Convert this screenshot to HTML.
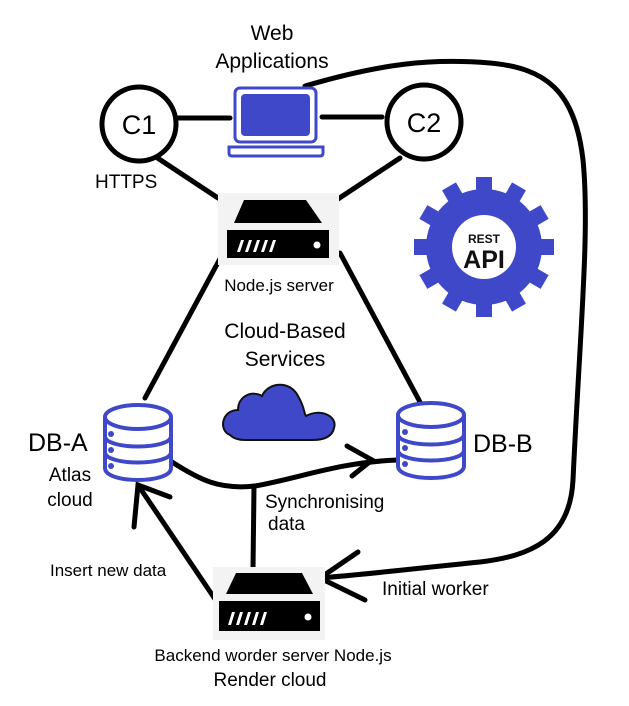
<!DOCTYPE html>
<html><head><style>
body{margin:0;background:#fff;}
svg{display:block;font-family:"Liberation Sans",sans-serif;}
</style></head><body>
<svg width="629" height="706" viewBox="0 0 629 706" xmlns="http://www.w3.org/2000/svg">
<rect width="629" height="706" fill="#fff"/>
<g stroke="#000" stroke-width="5" fill="none" stroke-linecap="round">
<line x1="177" y1="118" x2="230" y2="118"/>
<line x1="322" y1="117" x2="382" y2="117"/>
<line x1="156" y1="157" x2="218" y2="198"/>
<line x1="400" y1="158" x2="338" y2="199"/>
<line x1="222" y1="255" x2="145" y2="398"/>
<line x1="340" y1="253" x2="420" y2="402"/>
<path d="M172,462 C200,480 220,490 255,486 C300,478 340,462 398,460"/>
<polyline points="347,446 372,460 352,476"/>
<line x1="254" y1="486" x2="253" y2="570"/>
<line x1="217" y1="602" x2="138" y2="485"/>
<polyline points="134,527 138,485 170,497"/>
<path d="M305,86 C380,64 430,58 490,63 C545,68 575,90 583,160 C590,230 580,330 573,480 C570,540 530,556 480,562 C420,568 370,574 320,578"/>
<polyline points="358,552 320,578 365,600"/>
</g>
<g stroke="#000" stroke-width="5" fill="#fff">
<circle cx="139" cy="124" r="37"/>
<circle cx="424" cy="122" r="37"/>
</g>
<text x="139" y="134" font-size="27" text-anchor="middle">C1</text>
<text x="424" y="132" font-size="27" text-anchor="middle">C2</text>
<text x="272" y="40" font-size="21" text-anchor="middle">Web</text>
<text x="272" y="68" font-size="21" text-anchor="middle">Applications</text>
<text x="95" y="188" font-size="19">HTTPS</text>
<!-- laptop -->
<rect x="235" y="88" width="81" height="54" rx="5" fill="#fff" stroke="#3f48c8" stroke-width="3"/>
<rect x="241" y="94" width="69" height="42" rx="4" fill="#3f48c8"/>
<path d="M229,147 H323 V153 Q323,156 320,156 H232 Q229,156 229,153 Z" fill="#fff" stroke="#3f48c8" stroke-width="3"/>
<!-- node server -->
<rect x="218" y="193" width="121" height="72" fill="#f3f3f3"/>
<polygon points="234,223 244,200 306,200 322,223" fill="#000"/>
<rect x="227" y="230" width="102" height="28" fill="#000"/>
<g fill="#fff"><polygon points="237,252 241,240 244,240 240,252"/><polygon points="245,252 249,240 252,240 248,252"/><polygon points="253,252 257,240 260,240 256,252"/><polygon points="261,252 265,240 268,240 264,252"/><polygon points="269,252 273,240 276,240 272,252"/><circle cx="317" cy="245" r="3.5"/></g>
<text x="279" y="291" font-size="17" text-anchor="middle">Node.js server</text>
<text x="285" y="338" font-size="21" text-anchor="middle">Cloud-Based</text>
<text x="285" y="366" font-size="21" text-anchor="middle">Services</text>
<!-- cloud -->
<path d="M230,435 C218,430 222,410 238,410 C238,396 252,390 262,396 C268,382 290,380 298,396 C305,408 304,414 306,416 C320,408 338,416 334,428 C332,438 322,440 312,440 L245,440 C238,440 233,438 230,435 Z" fill="#3f48c8" stroke="#111" stroke-width="2"/>
<!-- DB-A -->
<g fill="#fff" stroke="#3f48c8" stroke-width="4">
<path d="M105,417 V468 C105,484 171,484 171,468 V417"/>
<ellipse cx="138" cy="417" rx="33" ry="12"/>
<path d="M105,436 C105,450 171,450 171,436" fill="none"/>
<path d="M105,452 C105,466 171,466 171,452" fill="none"/>
<path d="M398,415 V466 C398,482 464,482 464,466 V415"/>
<ellipse cx="431" cy="415" rx="33" ry="12"/>
<path d="M398,434 C398,448 464,448 464,434" fill="none"/>
<path d="M398,450 C398,464 464,464 464,450" fill="none"/>
</g>
<g fill="#3f48c8"><circle cx="111" cy="434" r="3"/><circle cx="111" cy="450" r="3"/><circle cx="111" cy="466" r="3"/>
<circle cx="405" cy="432" r="3"/><circle cx="405" cy="448" r="3"/><circle cx="405" cy="464" r="3"/></g>
<text x="28" y="451" font-size="25">DB-A</text>
<text x="70" y="481" font-size="19" text-anchor="middle">Atlas</text>
<text x="70" y="506" font-size="19" text-anchor="middle">cloud</text>
<text x="473" y="452" font-size="25">DB-B</text>
<text x="265" y="508" font-size="19">Synchronising</text>
<text x="268" y="530" font-size="19">data</text>
<text x="50" y="576" font-size="17">Insert new data</text>
<text x="382" y="595" font-size="19">Initial worker</text>
<!-- bottom server -->
<rect x="213" y="567" width="112" height="73" fill="#f3f3f3"/>
<polygon points="226,594 236,573 302,573 313,594" fill="#000"/>
<rect x="219" y="601" width="101" height="30" fill="#000"/>
<g fill="#fff"><polygon points="228,625 232,612 235,612 231,625"/><polygon points="236,625 240,612 243,612 239,625"/><polygon points="244,625 248,612 251,612 247,625"/><polygon points="252,625 256,612 259,612 255,625"/><polygon points="260,625 264,612 267,612 263,625"/><circle cx="308" cy="617" r="3.5"/></g>
<text x="273" y="661" font-size="17" text-anchor="middle">Backend worder server Node.js</text>
<text x="270" y="686" font-size="19" text-anchor="middle">Render cloud</text>
<!-- gear -->
<g transform="translate(484,247)" fill="#3f48c8">
<circle r="58"/>
<g id="t"><rect x="-8" y="-70" width="16" height="18"/></g>
<use href="#t" transform="rotate(30)"/><use href="#t" transform="rotate(60)"/><use href="#t" transform="rotate(90)"/>
<use href="#t" transform="rotate(120)"/><use href="#t" transform="rotate(150)"/><use href="#t" transform="rotate(180)"/>
<use href="#t" transform="rotate(210)"/><use href="#t" transform="rotate(240)"/><use href="#t" transform="rotate(270)"/>
<use href="#t" transform="rotate(300)"/><use href="#t" transform="rotate(330)"/>
<circle r="32" fill="#fff"/>
<text x="0" y="-4" font-size="12" font-weight="bold" fill="#111" text-anchor="middle">REST</text>
<text x="0" y="21" font-size="25" font-weight="bold" fill="#111" text-anchor="middle">API</text>
</g>
</svg>
</body></html>
